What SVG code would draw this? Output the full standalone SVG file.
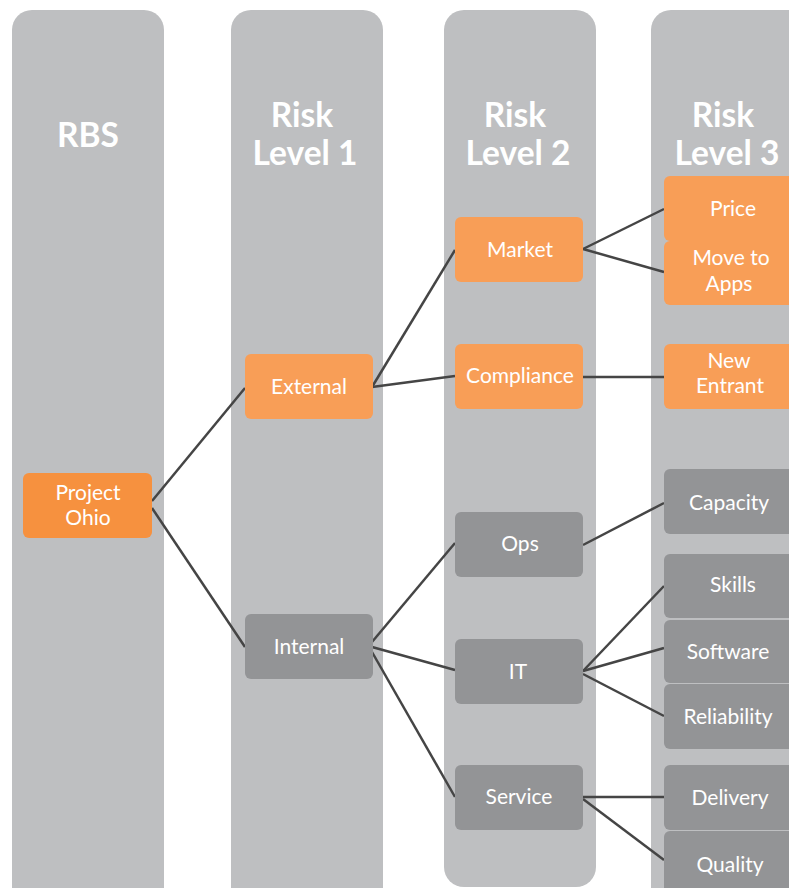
<svg xmlns="http://www.w3.org/2000/svg" width="789" height="888" viewBox="0 0 789 888">
<style>
.col{fill:#BEBFC1}
.hd{fill:#fff;font-family:Lato,"Open Sans",sans-serif;font-weight:bold;font-size:33.5px;text-anchor:middle}
.o1{fill:#F6913F}
.o2{fill:#F89E57}
.g{fill:#939496}
.t{fill:#fff;font-family:Lato,"Open Sans",sans-serif;font-size:21px;text-anchor:middle}
.c{stroke:#454545;stroke-width:2.5;fill:none}
</style>
<g id="columns">
<rect class="col" x="12" y="10" width="152" height="900" rx="20"/>
<rect class="col" x="231" y="10" width="152" height="900" rx="20"/>
<rect class="col" x="444" y="10" width="152" height="877" rx="20"/>
<rect class="col" x="651" y="10" width="160" height="900" rx="20"/>
<text class="hd" x="88" y="147">RBS</text>
<text class="hd" x="302" y="127">Risk</text>
<text class="hd" x="305" y="165">Level 1</text>
<text class="hd" x="515" y="127">Risk</text>
<text class="hd" x="518" y="165">Level 2</text>
<text class="hd" x="723" y="127">Risk</text>
<text class="hd" x="727" y="165">Level 3</text>
</g>
<g id="connectors">
<line class="c" x1="152" y1="501" x2="245" y2="388"/>
<line class="c" x1="152" y1="508" x2="245" y2="647"/>
<line class="c" x1="372" y1="387" x2="455" y2="250"/>
<line class="c" x1="372" y1="387" x2="455" y2="376"/>
<line class="c" x1="372" y1="642" x2="455" y2="543"/>
<line class="c" x1="372" y1="647" x2="455" y2="670"/>
<line class="c" x1="372" y1="652" x2="455" y2="797"/>
<line class="c" x1="583" y1="249" x2="664" y2="209"/>
<line class="c" x1="583" y1="249" x2="664" y2="272"/>
<line class="c" x1="583" y1="377" x2="664" y2="377"/>
<line class="c" x1="583" y1="545" x2="664" y2="503"/>
<line class="c" x1="583" y1="671" x2="664" y2="586"/>
<line class="c" x1="583" y1="671" x2="664" y2="648"/>
<line class="c" x1="583" y1="674" x2="664" y2="716"/>
<line class="c" x1="583" y1="797" x2="664" y2="797"/>
<line class="c" x1="583" y1="799" x2="664" y2="860"/>
</g>
<g id="project-ohio"><rect class="o1" x="23" y="473" width="129" height="65" rx="6"/><text class="t" x="88" y="500">Project</text><text class="t" x="88" y="525">Ohio</text></g>
<g id="external"><rect class="o2" x="245" y="354" width="128" height="65" rx="6"/><text class="t" x="309" y="394">External</text></g>
<g id="internal"><rect class="g" x="245" y="614" width="128" height="65" rx="6"/><text class="t" x="309" y="654">Internal</text></g>
<g id="market"><rect class="o2" x="455" y="217" width="128" height="65" rx="6"/><text class="t" x="520" y="257">Market</text></g>
<g id="compliance"><rect class="o2" x="455" y="344" width="128" height="65" rx="6"/><text class="t" x="520" y="383">Compliance</text></g>
<g id="ops"><rect class="g" x="455" y="512" width="128" height="65" rx="6"/><text class="t" x="520" y="551">Ops</text></g>
<g id="it"><rect class="g" x="455" y="639" width="128" height="65" rx="6"/><text class="t" x="518" y="679">IT</text></g>
<g id="service"><rect class="g" x="455" y="765" width="128" height="65" rx="6"/><text class="t" x="519" y="804">Service</text></g>
<g id="price"><rect class="o2" x="664" y="176" width="135" height="65" rx="6"/><text class="t" x="733" y="216">Price</text></g>
<g id="move-to-apps"><rect class="o2" x="664" y="241" width="135" height="64" rx="6"/><text class="t" x="731" y="265">Move to</text><text class="t" x="729" y="291">Apps</text></g>
<g id="new-entrant"><rect class="o2" x="664" y="344" width="135" height="65" rx="6"/><text class="t" x="729" y="368">New</text><text class="t" x="730" y="393">Entrant</text></g>
<g id="capacity"><rect class="g" x="664" y="469" width="135" height="65" rx="6"/><text class="t" x="729" y="510">Capacity</text></g>
<g id="skills"><rect class="g" x="664" y="554" width="135" height="64" rx="6"/><text class="t" x="733" y="592">Skills</text></g>
<g id="software"><rect class="g" x="664" y="620" width="135" height="63" rx="6"/><text class="t" x="728" y="659">Software</text></g>
<g id="reliability"><rect class="g" x="664" y="684" width="135" height="65" rx="6"/><text class="t" x="728" y="724">Reliability</text></g>
<g id="delivery"><rect class="g" x="664" y="765" width="135" height="65" rx="6"/><text class="t" x="730" y="805">Delivery</text></g>
<g id="quality"><rect class="g" x="664" y="831" width="135" height="70" rx="6"/><text class="t" x="730" y="872">Quality</text></g>
</svg>
